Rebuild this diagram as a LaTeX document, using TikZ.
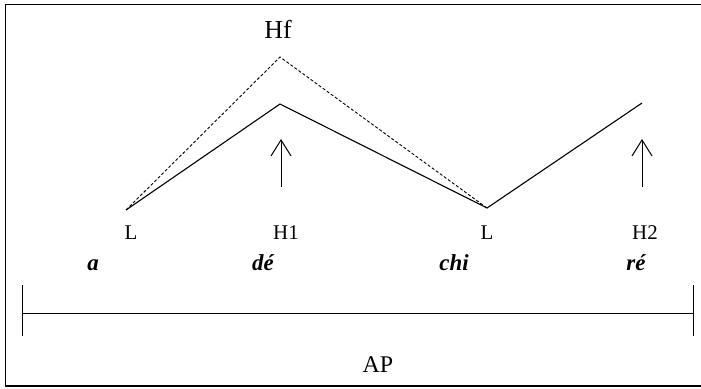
\documentclass[tikz,border=0pt]{standalone}
\usepackage{fontspec}
\setmainfont{Liberation Serif}
\usetikzlibrary{arrows.meta}
\begin{document}
\begin{tikzpicture}[x=1bp,y=-1bp,>={Straight Barb[length=16bp,width=20bp]},
    tone/.style={anchor=base,font=\fontsize{21}{21}\selectfont},
    syl/.style={anchor=base,font=\fontsize{23}{23}\selectfont\bfseries\itshape}]
	  \useasboundingbox (0,0) rectangle (701,388);
	  \draw[line width=1.2bp] (5.5,4.5) rectangle (710,386);
	  % tone targets
	  \coordinate (l1) at (126,210);
	  \coordinate (hf) at (280,57);
	  \coordinate (h1) at (280,104);
	  \coordinate (l2) at (487,208);
	  \coordinate (h2) at (642,103);
	  \node (hflab) at (278,38) [tone,font=\fontsize{26}{26}\selectfont] {Hf};
	  \draw[dashed,dash pattern=on 3bp off 2bp,line width=0.9bp] (l1) -- (hf) -- (l2);
	  \draw[line width=1.1bp] (l1) -- (h1) -- (l2) -- (h2);
	  % tone labels
	  \node (tl1) at (131,239) [tone] {L};
	  \node (th1) at (286,239) [tone] {H1};
	  \node (tl2) at (487,239) [tone] {L};
	  \node (th2) at (645,239) [tone] {H2};
	  \coordinate (a1s) at (281,187);
	  \coordinate (a1e) at (281,139);
	  \coordinate (a2s) at (642,187);
	  \coordinate (a2e) at (642,139);
	  \draw[->,line width=1bp] (a1s) -- (a1e);
	  \draw[->,line width=1bp] (a2s) -- (a2e);
	  % syllables
	  \node (s1) at (93,270) [syl] {a};
	  \node (s2) at (263,270) [syl] {dé};
	  \node (s3) at (454,270) [syl] {chi};
	  \node (s4) at (636,270) [syl] {ré};
	  % accentual phrase
	  \coordinate (apl) at (22,313);
	  \coordinate (apr) at (693,313);
	  \draw[line width=1bp] (apl) -- (apr);
	  \draw[line width=1bp] ([yshift=-23]apl) -- ([yshift=28]apl);
	  \draw[line width=1bp] ([yshift=-23]apr) -- ([yshift=28]apr);
	  \node (ap) at (378,372) [anchor=base,font=\fontsize{24}{24}\selectfont] {AP};
	\end{tikzpicture}
\end{document}
